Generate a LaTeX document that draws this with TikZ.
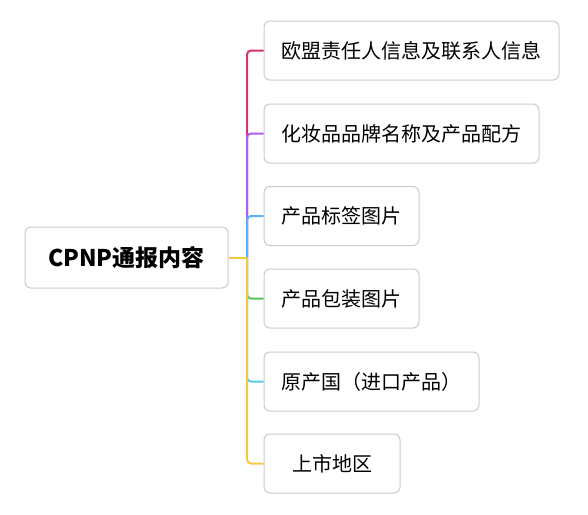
\documentclass[tikz,border=0pt]{standalone}
\usepackage{fontspec}
\setmainfont{Noto Sans CJK SC}
\usepackage{tikz}

\definecolor{boxgray}{HTML}{CBCBCB}
\definecolor{brred}{HTML}{D6336C}
\definecolor{brpurple}{HTML}{B05CF0}
\definecolor{brblue}{HTML}{58B3FA}
\definecolor{brgreen}{HTML}{5CC25C}
\definecolor{brcyan}{HTML}{4ECDE6}
\definecolor{bryellow}{HTML}{F5C842}

\begin{document}
\begin{tikzpicture}[x=1pt, y=-1pt, line join=round,
  leaf/.style={draw=boxgray, line width=1pt, rounded corners=6pt, anchor=west,
    minimum height=59pt, inner xsep=0pt, font=\fontsize{20}{24}\selectfont},
  branch/.style={line width=2pt, rounded corners=4pt}]

\useasboundingbox[fill=white] (0,0) rectangle (588,514);

% root
\node[draw=boxgray, line width=1pt, rounded corners=6pt, minimum width=203pt,
  minimum height=61pt, font=\bfseries\fontsize{23}{28}\selectfont]
  (root) at (126.5,257.5) {CPNP通报内容};

% children
\node[leaf, minimum width=295pt] (resp)   at (263.5,50.5)  {欧盟责任人信息及联系人信息};
\node[leaf, minimum width=275pt] (brand)  at (263.5,133.5) {化妆品品牌名称及产品配方};
\node[leaf, minimum width=155pt] (label)  at (263.5,216)   {产品标签图片};
\node[leaf, minimum width=155pt] (pack)   at (263.5,298.5) {产品包装图片};
\node[leaf, minimum width=215pt] (origin) at (263.5,381.5) {原产国（进口产品）};
\node[leaf, minimum width=136pt] (market) at (263.5,463.5) {上市地区};

\coordinate (trunk) at (247,257.5);

\draw[branch, brred]    (trunk) |- (resp.west);
\draw[branch, brpurple] (trunk) |- (brand.west);
\draw[branch, brblue]   (trunk) |- (label.west);
\draw[branch, brgreen]  (trunk) |- (pack.west);
\draw[branch, brcyan]   (trunk) |- (origin.west);
\draw[branch, bryellow] (trunk) |- (market.west);
\draw[branch, bryellow] (root.east) -- (trunk);
\end{tikzpicture}
\end{document}
